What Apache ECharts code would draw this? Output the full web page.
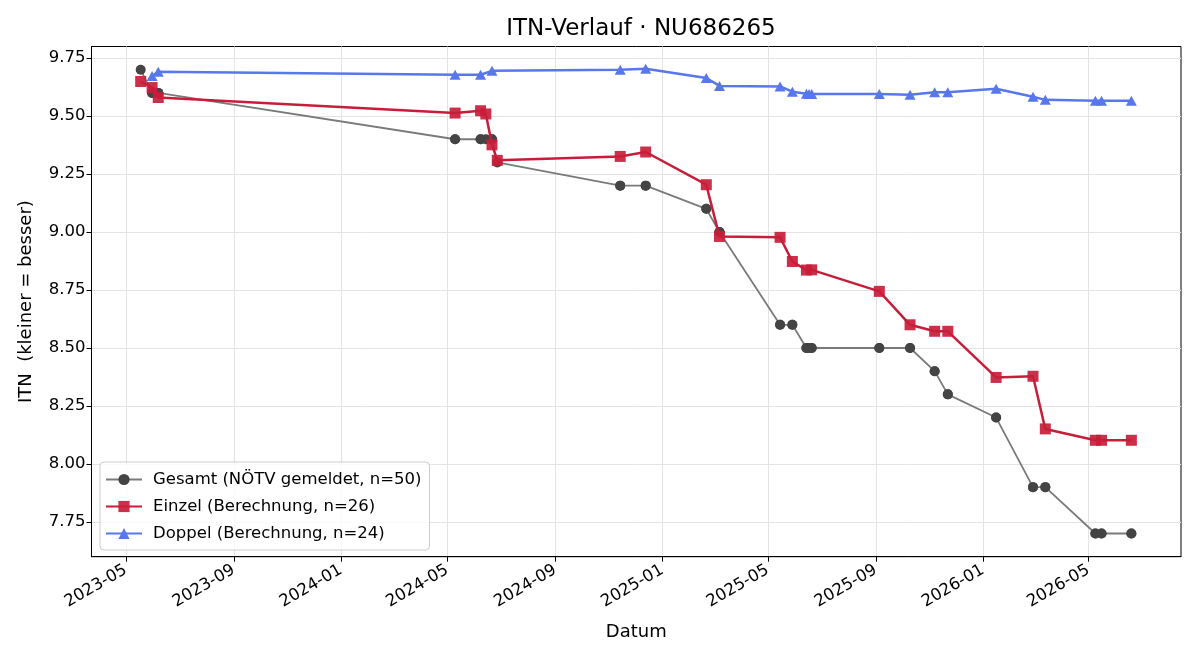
<!DOCTYPE html>
<html>
<head>
<meta charset="utf-8">
<title>ITN-Verlauf</title>
<script src="https://cdn.jsdelivr.net/npm/echarts@6/dist/echarts.min.js"></script>
<style>
    html, body { margin: 0; padding: 0; background: #fff; }
    #chartmain { width: 1200px; height: 660px; }
</style>
</head>
<body>
<div id="chartmain"></div>
<script>
// Gesamt (NÖTV gemeldet) - 50 Meldungen
var gesamtDates = ['2023-05-18', '2023-05-31', '2023-05-31', '2023-06-07', '2023-06-07',
    '2024-05-10', '2024-05-10', '2024-06-08', '2024-06-08', '2024-06-14', '2024-06-21', '2024-06-21', '2024-06-27',
    '2024-11-14', '2024-11-14', '2024-12-13', '2024-12-13', '2025-02-20', '2025-02-20', '2025-03-07', '2025-03-07',
    '2025-05-15', '2025-05-15', '2025-05-29', '2025-05-29', '2025-06-14', '2025-06-14', '2025-06-17', '2025-06-20', '2025-06-20',
    '2025-09-05', '2025-09-05', '2025-10-10', '2025-10-10', '2025-11-07', '2025-11-07', '2025-11-22', '2025-11-22',
    '2026-01-16', '2026-01-16', '2026-02-27', '2026-02-27', '2026-03-13', '2026-03-13',
    '2026-05-09', '2026-05-09', '2026-05-16', '2026-05-16', '2026-06-19', '2026-06-19'];
var gesamtValues = [9.70, 9.60, 9.60, 9.60, 9.60,
    9.40, 9.40, 9.40, 9.40, 9.40, 9.40, 9.40, 9.30,
    9.20, 9.20, 9.20, 9.20, 9.10, 9.10, 9.00, 9.00,
    8.60, 8.60, 8.60, 8.60, 8.50, 8.50, 8.50, 8.50, 8.50,
    8.50, 8.50, 8.50, 8.50, 8.40, 8.40, 8.30, 8.30,
    8.20, 8.20, 7.90, 7.90, 7.90, 7.90,
    7.70, 7.70, 7.70, 7.70, 7.70, 7.70];

// Einzel (Berechnung) - 26
var einzelDates = ['2023-05-18', '2023-05-31', '2023-06-07', '2024-05-10', '2024-06-08', '2024-06-14', '2024-06-21', '2024-06-27',
    '2024-11-14', '2024-12-13', '2025-02-20', '2025-03-07', '2025-05-15', '2025-05-29', '2025-06-14', '2025-06-20',
    '2025-09-05', '2025-10-10', '2025-11-07', '2025-11-22', '2026-01-16', '2026-02-27', '2026-03-13',
    '2026-05-09', '2026-05-16', '2026-06-19'];
var einzelValues = [9.649, 9.623, 9.580, 9.513, 9.523, 9.509, 9.376, 9.309,
    9.326, 9.345, 9.204, 8.981, 8.977, 8.873, 8.836, 8.837,
    8.744, 8.600, 8.572, 8.572, 8.373, 8.378, 8.151,
    8.102, 8.102, 8.102];

// Doppel (Berechnung) - 24
var doppelDates = ['2023-05-31', '2023-06-07', '2024-05-10', '2024-06-08', '2024-06-21',
    '2024-11-14', '2024-12-13', '2025-02-20', '2025-03-07', '2025-05-15', '2025-05-29', '2025-06-14', '2025-06-17', '2025-06-20',
    '2025-09-05', '2025-10-10', '2025-11-07', '2025-11-22', '2026-01-16', '2026-02-27', '2026-03-13',
    '2026-05-09', '2026-05-16', '2026-06-19'];
var doppelValues = [9.673, 9.691, 9.678, 9.678, 9.695,
    9.700, 9.704, 9.664, 9.630, 9.628, 9.605, 9.596, 9.595, 9.595,
    9.595, 9.592, 9.603, 9.603, 9.618, 9.583, 9.570,
    9.566, 9.566, 9.566];

// Achsenbeschriftung
var xTickMonths = ['2023-05', '2023-09', '2024-01', '2024-05', '2024-09', '2025-01', '2025-05', '2025-09', '2026-01', '2026-05'];
var yTicks = [7.75, 8.00, 8.25, 8.50, 8.75, 9.00, 9.25, 9.50, 9.75];

var seriesNames = ['Gesamt (NÖTV gemeldet, n=50)', 'Einzel (Berechnung, n=26)', 'Doppel (Berechnung, n=24)'];

function toTime(str) {
    var p = str.split('-');
    return new Date(+p[0], +p[1] - 1, p[2] ? +p[2] : 1).getTime();
}
function pad(n) {
    return n < 10 ? '0' + n : '' + n;
}
function pairs(dates, values) {
    var out = [];
    for (var i = 0; i < dates.length; i++) {
        out.push([toTime(dates[i]), values[i]]);
    }
    return out;
}

var xTicks = xTickMonths.map(toTime);
var font = 'DejaVu Sans';

var myChart = echarts.init(document.getElementById('chartmain'), null, { renderer: 'canvas' });
var option = {
    animation: false,
    backgroundColor: '#fff',
    textStyle: { fontFamily: font },
    title: {
        text: 'ITN-Verlauf · NU686265',
        left: 636,
        textAlign: 'center',
        top: 13,
        textStyle: { fontFamily: font, fontSize: 23, fontWeight: 'normal', color: '#000' }
    },
    grid: {
        left: 91.5,
        right: 19,
        top: 46.5,
        bottom: 103.3,
        show: true,
        borderColor: '#000',
        borderWidth: 1,
        containLabel: false
    },
    legend: {
        orient: 'vertical',
        left: 100,
        top: 462,
        data: seriesNames,
        itemWidth: 36,
        itemHeight: 14,
        itemGap: 10,
        padding: [9, 8, 8, 5],
        backgroundColor: 'rgba(255,255,255,0.8)',
        borderColor: '#cccccc',
        borderWidth: 1,
        borderRadius: 4,
        textStyle: { fontFamily: font, fontSize: 16.5, color: '#000', lineHeight: 16.5, padding: [0, 0, 0, 6] }
    },
    // Datumsachse als Zahlenachse (Zeitstempel), damit die Ticks frei gesetzt werden koennen
    xAxis: {
        type: 'value',
        min: toTime('2023-03-23'),
        max: toTime('2026-08-14') + 12 * 3600 * 1000,
        name: 'Datum',
        nameLocation: 'middle',
        nameGap: 67,
        nameTextStyle: { fontFamily: font, fontSize: 18, color: '#000' },
        axisLine: { show: true, lineStyle: { color: '#000', width: 1 } },
        axisTick: { show: true, length: 5, customValues: xTicks, lineStyle: { color: '#000' } },
        axisLabel: {
            customValues: xTicks,
            rotate: 30,
            margin: 12,
            fontFamily: font,
            fontSize: 16.5,
            color: '#000',
            formatter: function (v) {
                var d = new Date(v);
                return d.getFullYear() + '-' + pad(d.getMonth() + 1);
            }
        },
        splitLine: { show: true, lineStyle: { color: '#e3e3e3', width: 1 } }
    },
    yAxis: {
        type: 'value',
        min: 7.6,
        max: 9.8,
        name: 'ITN  (kleiner = besser)',
        nameLocation: 'middle',
        nameGap: 56.5,
        nameTextStyle: { fontFamily: font, fontSize: 18, color: '#000' },
        axisLine: { show: true, lineStyle: { color: '#000', width: 1 } },
        axisTick: { show: true, length: 5, customValues: yTicks, lineStyle: { color: '#000' } },
        axisLabel: {
            customValues: yTicks,
            margin: 6,
            fontFamily: font,
            fontSize: 16.5,
            color: '#000',
            formatter: function (v) {
                return v.toFixed(2);
            }
        },
        splitLine: { show: true, lineStyle: { color: '#e3e3e3', width: 1 } }
    },
    series: [{
        name: seriesNames[0],
        type: 'line',
        data: pairs(gesamtDates, gesamtValues),
        symbol: 'circle',
        symbolSize: 10,
        showAllSymbol: true,
        lineStyle: { color: '#7a7a7a', width: 1.8 },
        itemStyle: { color: '#444444', borderWidth: 0 },
        z: 2
    }, {
        name: seriesNames[1],
        type: 'line',
        data: pairs(einzelDates, einzelValues),
        symbol: 'rect',
        symbolSize: 11,
        showAllSymbol: true,
        lineStyle: { color: '#c81d3a', width: 2.5 },
        itemStyle: { color: '#c81d3a', borderWidth: 0, opacity: 0.92 },
        z: 3
    }, {
        name: seriesNames[2],
        type: 'line',
        data: pairs(doppelDates, doppelValues),
        symbol: 'triangle',
        symbolSize: [11, 10],
        showAllSymbol: true,
        lineStyle: { color: '#5877ec', width: 2.5 },
        itemStyle: { color: '#5877ec', borderWidth: 0 },
        z: 4
    }]
};
myChart.setOption(option);
</script>
</body>
</html>
